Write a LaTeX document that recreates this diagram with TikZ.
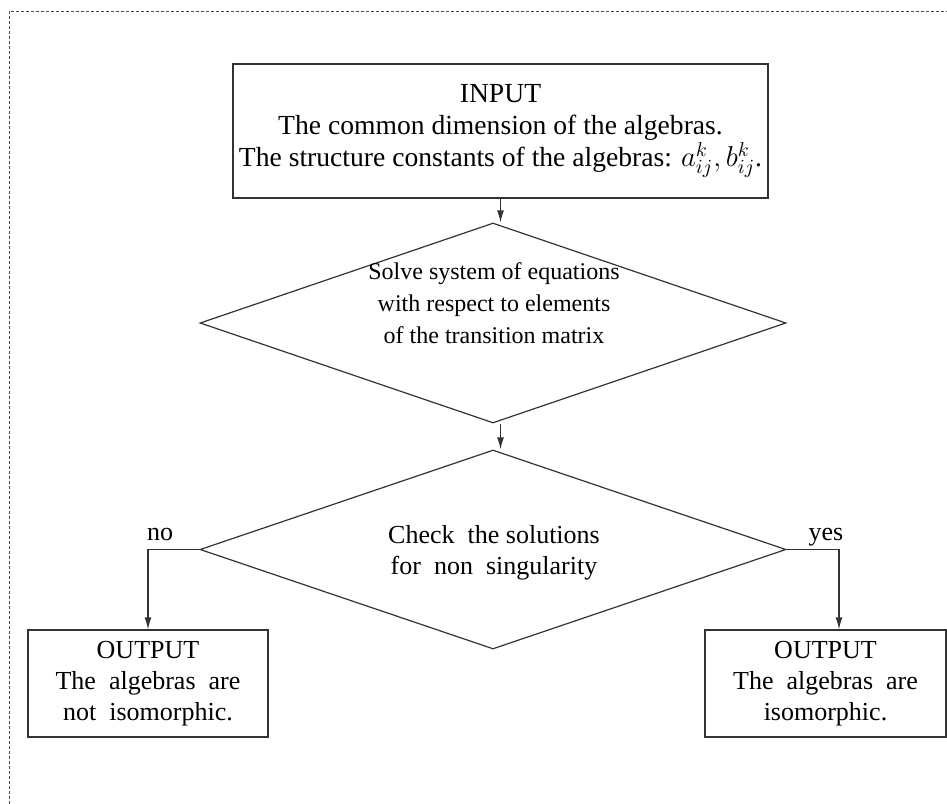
\documentclass[tikz,border=0pt]{standalone}
\usepackage{fontspec}
\setmainfont{Liberation Serif}
\usetikzlibrary{shapes.geometric,arrows.meta}

\begin{document}
\begin{tikzpicture}[x=0.5pt,y=-0.5pt,
  every node/.style={font=\fontsize{13}{15.5}\selectfont},
  line/.style={draw=black!80, line width=0.6pt},
  box/.style={line, align=center, inner sep=0pt},
  test/.style={line, diamond, inner sep=0pt},
  arr/.style={line, -{Latex[length=6pt,width=3.5pt]}}]
  \useasboundingbox (0,0) rectangle (947,803);
  % frame
  \begin{scope}
    \clip (0,0) rectangle (947,803);
    \draw[black!70, line width=0.5pt, dash pattern=on 1.5pt off 1pt] (9,11) rectangle (980,840);
  \end{scope}
  % boxes
  \node[box, minimum width=267.5pt, minimum height=67pt, font=\fontsize{13.8}{16}\selectfont] (in) at (500.5,131)
    {INPUT\\The common dimension of the algebras.\\The structure constants of the algebras: $a^k_{ij}, b^k_{ij}$.};
  \node[test, minimum width=293pt, minimum height=100pt] (solve) at (493,323) {};
  \node[align=center, font=\fontsize{12}{16}\selectfont] (solvetxt) at (494,303)
    {Solve system of equations\\with respect to elements\\of the transition matrix};
  \node[test, minimum width=293pt, minimum height=99.5pt] (check) at (493,549.5) {};
  \node[align=center] (checktxt) at (494,553)
    {Check \ the solutions\\for \ non \ singularity};
  \node[box, minimum width=120pt, minimum height=53.5pt] (no) at (148,683.5)
    {OUTPUT\\The \ algebras \ are\\not \ isomorphic.};
  \node[box, minimum width=120.5pt, minimum height=53.5pt] (yes) at (825.5,683.5)
    {OUTPUT\\The \ algebras \ are\\isomorphic.};
  % connectors
  \draw[arr] (in.south) -- (in.south |- solve.north);
  \draw[arr] (solve.south -| in.south) -- (check.north -| in.south);
  \draw[arr] (check.west) -| (no.north);
  \draw[arr] (check.east) -| ([xshift=6.75pt]yes.north);
  \node[anchor=base] (nolbl) at (160,540) {no};
  \node[anchor=base] (yeslbl) at (826,540) {yes};
\end{tikzpicture}
\end{document}
